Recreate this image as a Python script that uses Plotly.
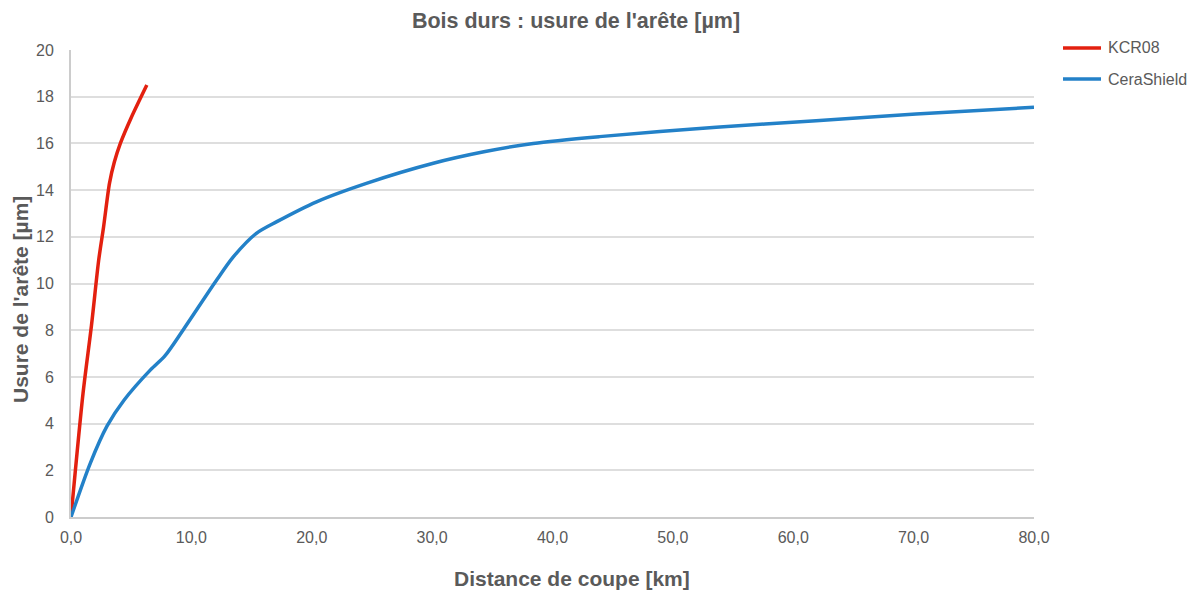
import plotly.graph_objects as go

kcr08_km = [0.0, 1.0, 1.7, 2.3, 2.7, 3.2, 3.6, 4.1, 5.0, 6.3]
kcr08_um = [0.0, 5.3, 8.2, 11.0, 12.4, 14.3, 15.2, 16.0, 17.1, 18.5]

cera_km = [0.0, 1.6, 3.0, 4.4, 6.6, 7.8, 9.3, 12.1, 13.5, 15.4, 17.1, 20.4, 24.6, 30.1, 34.3, 38.4,
           43.9, 53.6, 61.9, 70.2, 80.0]
cera_um = [0.0, 2.3, 3.9, 5.0, 6.3, 6.9, 8.0, 10.15, 11.15, 12.15, 12.65, 13.5, 14.3, 15.15, 15.64, 16.0,
           16.29, 16.69, 16.97, 17.26, 17.55]

series_names = ["KCR08", "CeraShield"]
series_colors = ["#e3200f", "#2381c8"]

x_ticks = [0, 10, 20, 30, 40, 50, 60, 70, 80]
y_ticks = [0, 2, 4, 6, 8, 10, 12, 14, 16, 18, 20]

title_text = "Bois durs : usure de l'arête [µm]"
x_title = "Distance de coupe [km]"
y_title = "Usure de l'arête [µm]"

FONT = "Liberation Sans, Arial, sans-serif"
TXT = "#5a5a5a"

W, H = 1188, 592
OFF = 0  # page body margin removed in post_script below

fig = go.Figure()
for xs, ys, nm, col in [(kcr08_km, kcr08_um, series_names[0], series_colors[0]),
                        (cera_km, cera_um, series_names[1], series_colors[1])]:
    fig.add_trace(go.Scatter(x=xs, y=ys, mode="lines", name=nm, showlegend=False,
                             line=dict(color=col, width=3.5, shape="spline", smoothing=0.8)))

PW, PH = 963.0, 467.0
def px_x(p):  # screen px -> paper x
    return (p - 71) / PW
def px_y(p):  # screen px -> paper y
    return (517 - p) / PH
def cx(p):  # screen px -> container x
    return (p - OFF) / W
def cy(p):  # screen px -> container y
    return 1 - (p - OFF) / H

# legend drawn in the right margin
shapes = []
annotations = []
leg_y = [48, 79]
for nm, col, yy in zip(series_names, series_colors, leg_y):
    shapes.append(dict(type="line", xref="paper", yref="paper",
                       x0=px_x(1063), x1=px_x(1101), y0=px_y(yy), y1=px_y(yy),
                       line=dict(color=col, width=3.5)))
    annotations.append(dict(text=nm, xref="paper", yref="paper", x=px_x(1106), y=px_y(yy),
                            xanchor="left", yanchor="middle", showarrow=False,
                            font=dict(size=16, color=TXT)))

annotations += [
    dict(text="<b>" + x_title + "</b>", xref="paper", yref="paper",
         x=px_x(572), y=px_y(578), xanchor="center", yanchor="middle",
         showarrow=False, font=dict(size=21, color=TXT)),
    dict(text="<b>" + y_title + "</b>", xref="paper", yref="paper",
         x=px_x(20), y=px_y(300), xanchor="center", yanchor="middle",
         textangle=-90, showarrow=False, font=dict(size=21, color=TXT)),
]

fig.update_layout(
    width=W, height=H,
    margin=dict(l=71 - OFF, r=W - 1034 + OFF, t=50 - OFF, b=H - 517 + OFF),
    paper_bgcolor="white", plot_bgcolor="white",
    separators=", ",
    showlegend=False,
    font=dict(family=FONT, color=TXT, size=16),
    title=dict(text="<b>" + title_text + "</b>", x=cx(576), xref="container",
               xanchor="center", y=cy(20), yref="container", yanchor="middle",
               font=dict(size=21.5, color=TXT)),
    xaxis=dict(range=[0, 80], tickvals=x_ticks, tickformat=".1f",
               showgrid=False, zeroline=False,
               showline=True, linecolor="#cccccc", linewidth=2,
               ticks="", ticklabelstandoff=5, tickfont=dict(size=16, color=TXT)),
    yaxis=dict(range=[0, 20], tickvals=y_ticks,
               showgrid=True, gridcolor="#dedede", gridwidth=2, zeroline=False,
               showline=True, linecolor="#cccccc", linewidth=2,
               ticks="", ticklabelstandoff=12, tickfont=dict(size=16, color=TXT)),
    shapes=shapes,
    annotations=annotations,
)

# remove default page margin / scrollbars so the figure fills the window exactly
fig.write_html("out.html", config={"displayModeBar": False}, post_script=(
    "document.body.style.margin='0';"
    "document.documentElement.style.overflow='hidden';"
    "document.body.style.overflow='hidden';"))
